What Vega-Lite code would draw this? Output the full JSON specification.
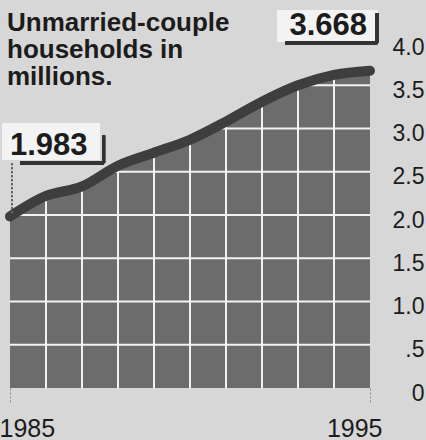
{
  "$schema": "https://vega.github.io/schema/vega-lite/v6.json",
  "width": 360,
  "height": 346,
  "autosize": {"type": "none"},
  "padding": {"left": 10, "top": 42, "right": 56, "bottom": 52},
  "background": "#d7d7d7",
  "config": {"view": {"stroke": null}},
  "title": {
    "text": ["Unmarried-couple", "households in", "millions."],
    "font": "Liberation Sans",
    "fontWeight": "bold",
    "fontSize": 26,
    "lineHeight": 27,
    "color": "#1c1c1c",
    "anchor": "start",
    "frame": "group",
    "orient": "top",
    "baseline": "bottom",
    "offset": -106,
    "dx": -3
  },
  "data": {
    "values": [
      {"year": 1985, "value": 1.983},
      {"year": 1986, "value": 2.22},
      {"year": 1987, "value": 2.33},
      {"year": 1988, "value": 2.57},
      {"year": 1989, "value": 2.72},
      {"year": 1990, "value": 2.87},
      {"year": 1991, "value": 3.08},
      {"year": 1992, "value": 3.31},
      {"year": 1993, "value": 3.5},
      {"year": 1994, "value": 3.62},
      {"year": 1995, "value": 3.668}
    ]
  },
  "layer": [
    {
      "mark": {"type": "area", "interpolate": "monotone", "color": "#6c6c6c"},
      "encoding": {
        "x": {
          "field": "year",
          "type": "quantitative",
          "scale": {"domain": [1985, 1995], "nice": false, "zero": false},
          "axis": {
            "title": null,
            "values": [1985, 1995],
            "format": "d",
            "grid": false,
            "domain": false,
            "ticks": true,
            "tickSize": 14,
            "tickColor": "#8a8a8a",
            "tickDash": [2, 2],
            "tickWidth": 1,
            "labelPadding": 14,
            "labelFont": "Liberation Sans",
            "labelFontSize": 25,
            "labelColor": "#1c1c1c",
            "labelBaseline": "top",
            "labelAlign": {"condition": {"test": "datum.value == 1985", "value": "left"}, "value": "right"},
            "labelOffset": {"condition": {"test": "datum.value == 1985", "value": -11}, "value": 12}
          }
        },
        "y": {
          "field": "value",
          "type": "quantitative",
          "scale": {"domain": [0, 4], "nice": false},
          "axis": {
            "title": null,
            "orient": "right",
            "values": [0, 0.5, 1, 1.5, 2, 2.5, 3, 3.5, 4],
            "labelExpr": "datum.value == 0 ? '0' : datum.value == 0.5 ? '.5' : format(datum.value, '.1f')",
            "grid": false,
            "domain": false,
            "ticks": false,
            "labelAlign": "right",
            "labelBaseline": "middle",
            "labelPadding": 54,
            "labelOffset": 5,
            "labelFont": "Liberation Sans",
            "labelFontSize": 23,
            "labelColor": "#1c1c1c"
          }
        }
      }
    },
    {
      "transform": [{"filter": "datum.year > 1985 && datum.year < 1995"}],
      "mark": {"type": "rule", "color": "#f2f2f2", "strokeWidth": 2},
      "encoding": {
        "x": {"field": "year", "type": "quantitative"},
        "y": {"field": "value", "type": "quantitative"},
        "y2": {"datum": 0}
      }
    },
    {
      "data": {"values": [{"g": 0.5}, {"g": 1}, {"g": 1.5}, {"g": 2}, {"g": 2.5}, {"g": 3}, {"g": 3.5}]},
      "mark": {"type": "rule", "color": "#f2f2f2", "strokeWidth": 2},
      "encoding": {
        "y": {"field": "g", "type": "quantitative"}
      }
    },
    {
      "mark": {"type": "area", "interpolate": "monotone", "color": "#d7d7d7"},
      "encoding": {
        "x": {"field": "year", "type": "quantitative"},
        "y": {"field": "value", "type": "quantitative"},
        "y2": {"datum": 4.05}
      }
    },
    {
      "mark": {"type": "line", "interpolate": "monotone", "color": "#3e3e3e", "strokeWidth": 10, "strokeCap": "round"},
      "encoding": {
        "x": {"field": "year", "type": "quantitative"},
        "y": {"field": "value", "type": "quantitative"}
      }
    },
    {
      "mark": {"type": "rect", "color": "#f3f3f3"},
      "encoding": {
        "x": {"datum": 1984.78},
        "x2": {"datum": 1987.5},
        "y": {"datum": 3.06},
        "y2": {"datum": 2.64}
      }
    },
    {
      "mark": {"type": "rect", "color": "#f3f3f3"},
      "encoding": {
        "x": {"datum": 1992.42},
        "x2": {"datum": 1995.2},
        "y": {"datum": 4.37},
        "y2": {"datum": 4.0}
      }
    },
    {
      "transform": [{"filter": "datum.year == 1985"}],
      "mark": {"type": "text", "align": "left", "baseline": "alphabetic", "font": "Liberation Sans", "fontWeight": "bold", "fontSize": 31, "color": "#1c1c1c", "dy": -61},
      "encoding": {
        "x": {"field": "year", "type": "quantitative"},
        "y": {"field": "value", "type": "quantitative"},
        "text": {"field": "value", "type": "quantitative", "format": ".3f"}
      }
    },
    {
      "transform": [{"filter": "datum.year == 1995"}],
      "mark": {"type": "text", "align": "right", "baseline": "alphabetic", "font": "Liberation Sans", "fontWeight": "bold", "fontSize": 31, "color": "#1c1c1c", "dy": -36, "dx": -3},
      "encoding": {
        "x": {"field": "year", "type": "quantitative"},
        "y": {"field": "value", "type": "quantitative"},
        "text": {"field": "value", "type": "quantitative", "format": ".3f"}
      }
    },
    {
      "mark": {"type": "rule", "color": "#333333", "strokeWidth": 3},
      "encoding": {
        "x": {"datum": 1985.28},
        "x2": {"datum": 1987.6},
        "y": {"datum": 2.6}
      }
    },
    {
      "mark": {"type": "rule", "color": "#333333", "strokeWidth": 3},
      "encoding": {
        "x": {"datum": 1987.6},
        "y": {"datum": 2.92},
        "y2": {"datum": 2.6}
      }
    },
    {
      "mark": {"type": "rule", "color": "#333333", "strokeWidth": 3},
      "encoding": {
        "x": {"datum": 1992.64},
        "x2": {"datum": 1995.2},
        "y": {"datum": 3.99}
      }
    },
    {
      "mark": {"type": "rule", "color": "#333333", "strokeWidth": 3},
      "encoding": {
        "x": {"datum": 1995.2},
        "y": {"datum": 4.33},
        "y2": {"datum": 3.99}
      }
    },
    {
      "mark": {"type": "rule", "color": "#666666", "strokeWidth": 1, "strokeDash": [2, 2]},
      "encoding": {
        "x": {"datum": 1985.05},
        "y": {"datum": 2.6},
        "y2": {"datum": 2.0}
      }
    }
  ]
}
